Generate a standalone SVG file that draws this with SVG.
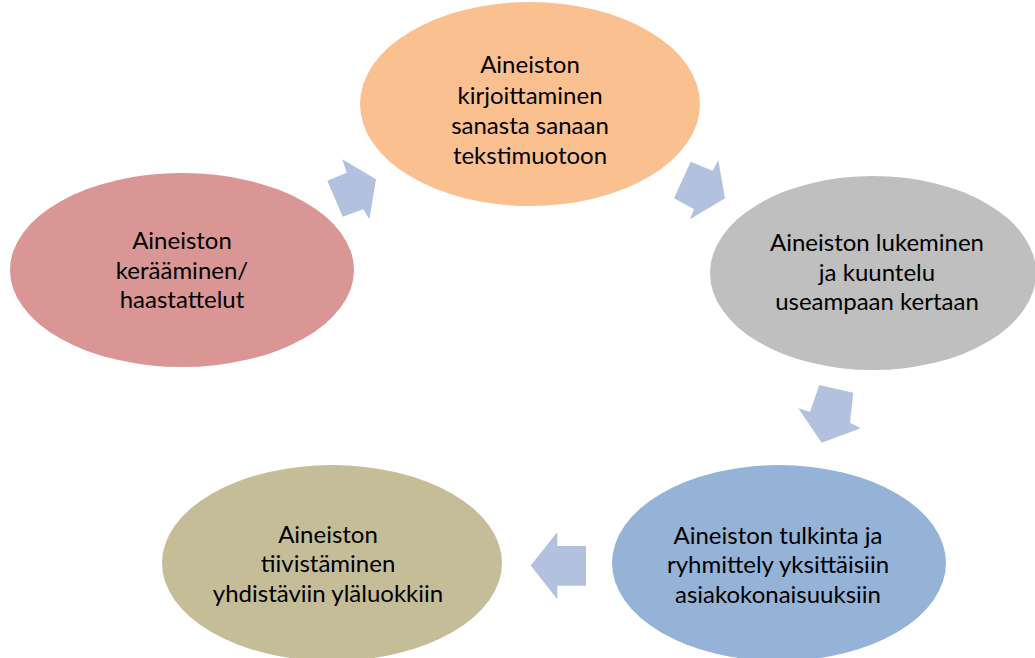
<svg xmlns="http://www.w3.org/2000/svg" width="1035" height="658" viewBox="0 0 1035 658">
<style>
text{font-family:Lato,"Open Sans","Liberation Sans",sans-serif;font-size:24px;fill:#000;text-anchor:middle}
.arr{fill:#B2C1DE}
</style>
<rect width="1035" height="658" fill="#fff"/>
<g id="connectors">
<polygon class="arr" points="342.3,159.3 346.7,172.7 327.3,180.7 342.7,216.7 363.3,209.3 369.3,219.3 376,179.3"/>
<polygon class="arr" points="690.7,161.7 712.7,170.7 718.3,160 725,198.3 690,219.3 694,209.3 674,198.3"/>
<polygon class="arr" points="819.3,385 853.3,392.7 850,422.7 860.7,428.3 821.7,442.7 798.3,408.3 810,411.7"/>
<polygon class="arr" points="586,546 557.3,546 557.3,532 530.7,565.5 557.3,599.3 557.3,585.7 586,585.7"/>
</g>
<g id="n1">
<ellipse cx="182" cy="270" rx="172" ry="97" fill="#D99694"/>
<text x="182" y="249">Aineiston</text>
<text x="182" y="279">kerääminen/</text>
<text x="182" y="308">haastattelut</text>
</g>
<g id="n2">
<ellipse cx="530" cy="104" rx="170" ry="102" fill="#FAC090"/>
<text x="530" y="73">Aineiston</text>
<text x="530" y="104">kirjoittaminen</text>
<text x="530" y="134">sanasta sanaan</text>
<text x="530" y="164">tekstimuotoon</text>
</g>
<g id="n3">
<ellipse cx="873" cy="273" rx="163" ry="97" fill="#BFBFBF"/>
<text x="877" y="251">Aineiston lukeminen</text>
<text x="877" y="281">ja kuuntelu</text>
<text x="877" y="310">useampaan kertaan</text>
</g>
<g id="n4">
<ellipse cx="779" cy="563" rx="167" ry="98" fill="#95B3D7"/>
<text x="778" y="544">Aineiston tulkinta ja</text>
<text x="778" y="573">ryhmittely yksittäisiin</text>
<text x="778" y="603">asiakokonaisuuksiin</text>
</g>
<g id="n5">
<ellipse cx="332" cy="563" rx="170" ry="98" fill="#C4BD97"/>
<text x="328" y="543">Aineiston</text>
<text x="328" y="572">tiivistäminen</text>
<text x="328" y="602">yhdistäviin yläluokkiin</text>
</g>
</svg>
